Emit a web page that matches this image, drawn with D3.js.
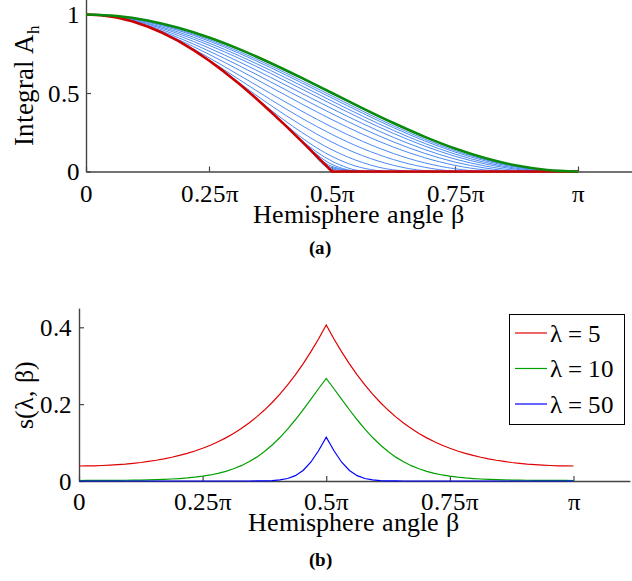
<!DOCTYPE html>
<html><head><meta charset="utf-8">
<script src="https://cdn.jsdelivr.net/npm/d3@7"></script>
<style>
@font-face { font-family: "ChartSerif"; font-weight: normal;
  src: local("Liberation Serif"), local("LiberationSerif"), local("LiberationSerif-Regular"), local("Liberation Serif Regular"),
       local("Times New Roman"), local("TimesNewRomanPSMT"), local("Nimbus Roman"), local("NimbusRoman-Regular"),
       local("DejaVu Serif"), local("DejaVuSerif"), local("Noto Serif"), local("NotoSerif-Regular"); }
@font-face { font-family: "ChartSerif"; font-weight: bold;
  src: local("Liberation Serif Bold"), local("LiberationSerif-Bold"), local("Times New Roman Bold"), local("TimesNewRomanPS-BoldMT"),
       local("NimbusRoman-Bold"), local("DejaVu Serif Bold"), local("DejaVuSerif-Bold"), local("NotoSerif-Bold"); }
body{margin:0;background:#fff}
svg{display:block}
</style>
</head><body>
<svg id="c" width="632" height="581"></svg>
<script>
const PI = Math.PI;
const SERIF = "ChartSerif, 'Liberation Serif', 'Times New Roman', Times, 'DejaVu Serif', serif";

// ---- shared x ticks (multiples of pi) ----
const xTickFractions = [0, 0.25, 0.5, 0.75, 1];
const xTickLabels = ["0", "0.25\u03c0", "0.5\u03c0", "0.75\u03c0", "\u03c0"];

// ---- panel (a): integral A_h ----
const aYTicks = [0, 0.5, 1];
const aYTickLabels = ["0", "0.5", "1"];
const gridA = d3.range(17).map(k => k * PI / 16);      // sample angles, step pi/16
const gridAFine = d3.range(33).map(k => k * PI / 32);  // sample angles, step pi/32
const greenA = [1, .9904, .9619, .9157, .8536, .7778, .6913, .5975, .5, .4025, .3087, .2222, .1464, .0843, .0381, .0096, 0];
const redA = [1, .9952, .9808, .9569, .9239, .8819, .8315, .7730, .7071, .6344, .5556, .4714, .3827, .2903, .1951, .0980, 0,
              0, 0, 0, 0, 0, 0, 0, 0, 0, 0, 0, 0, 0, 0, 0, 0];
const blueA = [
  [1, .9895, .9603, .9133, .8505, .7742, .6873, .5933, .4956, .3982, .3046, .2186, .1434, .0819, .0364, .0088, 0],
  [1, .9870, .9550, .9052, .8403, .7622, .6740, .5791, .4812, .3839, .2913, .2066, .1333, .0739, .0311, .0062, 0],
  [1, .9850, .9507, .8985, .8312, .7512, .6618, .5661, .4679, .3710, .2791, .1957, .1241, .0669, .0265, .0042, 0],
  [1, .9827, .9438, .8885, .8181, .7356, .6441, .5472, .4486, .3521, .2614, .1800, .1110, .0570, .0202, .0020, 0],
  [1, .9812, .9385, .8784, .8043, .7188, .6251, .5269, .4278, .3318, .2424, .1632, .0972, .0469, .0142, .0004, 0],
  [1, .9808, .9313, .8663, .7864, .6966, .6000, .4996, .3999, .3045, .2171, .1411, .0793, .0342, .0075, 0, 0],
  [1, .9808, .9261, .8529, .7671, .6720, .5711, .4685, .3680, .2734, .1884, .1164, .0600, .0215, .0021, 0, 0],
  [1, .9808, .9239, .8409, .7464, .6441, .5379, .4320, .3304, .2369, .1552, .0885, .0392, .0093, 0, 0, 0],
  [1, .9808, .9239, .8322, .7245, .6113, .4971, .3862, .2829, .1913, .1144, .0557, .0173, .0007, 0, 0, 0],
  [1, .9808, .9239, .8315, .7101, .5831, .4585, .3413, .2358, .1461, .0759, .0275, .0030, 0, 0, 0, 0],
  [1, .9808, .9239, .8315, .7071, .5617, .4221, .2956, .1869, .1006, .0394, .0061, 0, 0, 0, 0, 0],
  [1, .9808, .9239, .8315, .7071, .5556, .3931, .2515, .1382, .0567, .0104, 0, 0, 0, 0, 0, 0],
  [1, .9808, .9239, .8315, .7071, .5556, .3827, .2173, .0959, .0224, 0, 0, 0, 0, 0, 0, 0],
  [1, .9808, .9239, .8315, .7071, .5556, .3827, .1992, .0659, .0041, 0, 0, 0, 0, 0, 0, 0],
  [1, .9808, .9239, .8315, .7071, .5556, .3827, .1951, .0450, 0, 0, 0, 0, 0, 0, 0, 0],
  [1, .9808, .9239, .8315, .7071, .5556, .3827, .1951, .0319, 0, 0, 0, 0, 0, 0, 0, 0],
  [1, .9808, .9239, .8315, .7071, .5556, .3827, .1951, .0232, 0, 0, 0, 0, 0, 0, 0, 0],
  [1, .9808, .9239, .8315, .7071, .5556, .3827, .1951, .0148, 0, 0, 0, 0, 0, 0, 0, 0]
];

// ---- panel (b): s(lambda, beta) ----
const bYTicks = [0, 0.2, 0.4];
const bYTickLabels = ["0", "0.2", "0.4"];
const gridB = d3.range(65).map(k => k * PI / 64);      // sample angles, step pi/64
const lambdas = [5, 10, 50];
const s5 = [.0391,.0392,.0396,.0403,.0412,.0425,.0440,.0460,.0482,.0509,.0540,.0576,.0618,.0666,.0720,.0782,.0853,.0932,.1022,.1123,.1237,.1366,.1509,.1668,.1846,.2043,.2261,.2500,.2762,.3049,.3360,.3697,.4060,
            .3697,.3360,.3049,.2762,.2500,.2261,.2043,.1846,.1668,.1509,.1366,.1237,.1123,.1022,.0932,.0853,.0782,.0720,.0666,.0618,.0576,.0540,.0509,.0482,.0460,.0440,.0425,.0412,.0403,.0396,.0392,.0391];
const s10 = [.0013,.0014,.0014,.0015,.0016,.0017,.0019,.0022,.0025,.0030,.0035,.0042,.0052,.0064,.0079,.0099,.0125,.0157,.0199,.0252,.0318,.0399,.0500,.0621,.0766,.0936,.1131,.1352,.1594,.1854,.2126,.2401,.2670,
             .2401,.2126,.1854,.1594,.1352,.1131,.0936,.0766,.0621,.0500,.0399,.0318,.0252,.0199,.0157,.0125,.0099,.0079,.0064,.0052,.0042,.0035,.0030,.0025,.0022,.0019,.0017,.0016,.0015,.0014,.0014,.0013];
const s50 = [0,0,0,0,0,0,0,0,0,0,0,0,0,0,0,0,0,0,0,0,0,0,0,.0001,.0004,.0011,.0027,.0064,.0139,.0273,.0488,.0786,.1140,
             .0786,.0488,.0273,.0139,.0064,.0027,.0011,.0004,.0001,0,0,0,0,0,0,0,0,0,0,0,0,0,0,0,0,0,0,0,0,0,0,0];
const sSeries = [s5, s10, s50];
const bColors = ["#e00000", "#00a000", "#0000ff"];

const svg = d3.select("#c");
const FONT = 25;

function drawAxes(g, x, y, yTicks, yLabels, padX, padY) {
  const ax = d3.axisBottom(x).tickValues(xTickFractions.map(f => f * PI))
    .tickFormat((d, i) => xTickLabels[i]).tickSizeInner(-5).tickSizeOuter(0).tickPadding(padX);
  const ay = d3.axisLeft(y).tickValues(yTicks)
    .tickFormat((d, i) => yLabels[i]).tickSizeInner(-5).tickSizeOuter(0).tickPadding(padY);
  const gx = g.append("g").attr("transform", `translate(0,${y(0)})`).call(ax);
  const gy = g.append("g").attr("transform", `translate(${x(0)},0)`).call(ay);
  [gx, gy].forEach(a => {
    a.attr("font-family", SERIF).attr("font-size", FONT);
    a.selectAll("path.domain").attr("stroke", "#444").attr("stroke-width", 1.4);
    a.selectAll(".tick line").attr("stroke", "#444").attr("stroke-width", 1.2);
    a.selectAll(".tick text").attr("fill", "#000");
  });
}

// ================= panel (a) =================
const xa = d3.scaleLinear().domain([0, 3.5]).range([86, 86 + 3.5 * 492 / PI]);
const ya = d3.scaleLinear().domain([0, 1.1]).range([171.5, 171.5 - 1.1 * 157]);
const ga = svg.append("g");
drawAxes(ga, xa, ya, aYTicks, aYTickLabels, 12.5, 6);

const lineA = d3.line().x((d, i) => xa(gridA[i])).y(d => ya(d)).curve(d3.curveMonotoneX);
ga.append("g").selectAll("path").data(blueA).join("path")
  .attr("d", lineA).attr("fill", "none").attr("stroke", "#4a8af4").attr("stroke-width", 1);
const lineAFine = d3.line().x((d, i) => xa(gridAFine[i])).y(d => ya(d));
ga.append("path").datum(redA).attr("d", lineAFine)
  .attr("fill", "none").attr("stroke", "#cc0000").attr("stroke-width", 2.6).attr("stroke-linejoin", "round");
ga.append("path").datum(greenA).attr("d", lineA)
  .attr("fill", "none").attr("stroke", "#0a8a0a").attr("stroke-width", 2.6);

ga.append("text").attr("x", (xa.range()[0] + xa.range()[1]) / 2 - 2).attr("y", 223)
  .attr("text-anchor", "middle").attr("font-size", 26).text("Hemisphere angle \u03b2");
const yla = ga.append("text").attr("transform", `translate(33,${(ya.range()[0] + ya.range()[1]) / 2}) rotate(-90)`)
  .attr("text-anchor", "middle").attr("font-size", 27);
yla.append("tspan").text("Integral A");
yla.append("tspan").attr("dy", 6).attr("font-size", 17).text("h");
ga.append("text").attr("x", 320).attr("y", 254).attr("text-anchor", "middle")
  .attr("font-size", 19).attr("font-weight", "bold").text("(a)");

// ================= panel (b) =================
const xb = d3.scaleLinear().domain([0, 3.5]).range([79, 79 + 3.5 * 494.5 / PI]);
const yb = d3.scaleLinear().domain([0, 0.45]).range([481, 481 - 0.45 * 384.25]);
const gb = svg.append("g");
drawAxes(gb, xb, yb, bYTicks, bYTickLabels, 11, 7);

const lineB = d3.line().x((d, i) => xb(gridB[i])).y(d => yb(d));
gb.append("g").selectAll("path").data(sSeries).join("path")
  .attr("d", lineB).attr("fill", "none").attr("stroke", (d, i) => bColors[i]).attr("stroke-width", 1.2);

gb.append("text").attr("x", (xb.range()[0] + xb.range()[1]) / 2 - 1).attr("y", 530.5)
  .attr("text-anchor", "middle").attr("font-size", 26).text("Hemisphere angle \u03b2");
gb.append("text").attr("transform", `translate(33,${(yb.range()[0] + yb.range()[1]) / 2}) rotate(-90)`)
  .attr("text-anchor", "middle").attr("font-size", 26).text("s(\u03bb, \u03b2)");
gb.append("text").attr("x", 320).attr("y", 566).attr("text-anchor", "middle")
  .attr("font-size", 19).attr("font-weight", "bold").text("(b)");

// legend
const leg = gb.append("g");
leg.append("rect").attr("x", 509.5).attr("y", 314.5).attr("width", 115).attr("height", 110)
  .attr("fill", "#fff").attr("stroke", "#000").attr("stroke-width", 1);
const entries = leg.selectAll("g.e").data(lambdas).join("g").attr("class", "e")
  .attr("transform", (d, i) => `translate(0,${333 + i * 35.5})`);
entries.append("line").attr("x1", 515).attr("x2", 547).attr("y1", 0).attr("y2", 0)
  .attr("stroke", (d, i) => bColors[i]).attr("stroke-width", 1.2);
entries.append("text").attr("x", 550).attr("y", 0).attr("dy", "0.35em")
  .attr("font-size", FONT).text(d => "\u03bb = " + d);

svg.selectAll("text").attr("font-family", SERIF).style("font-family", SERIF).attr("fill", "#000");
</script>
</body></html>
